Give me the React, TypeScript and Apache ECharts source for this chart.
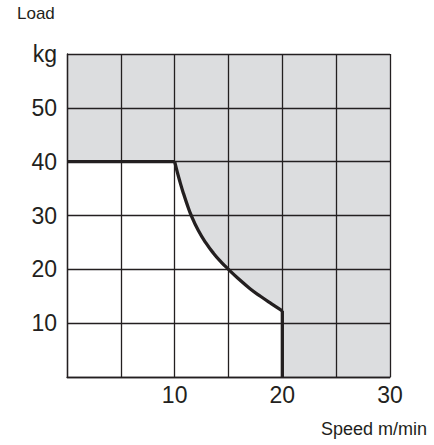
import React, { useEffect, useRef } from "react";
import * as echarts from "echarts";

// Rated load limit (speed m/min, load kg)
const flatSpeed = [0, 10];
const flatLoad = [40, 40];
const curveSpeed = [10, 10.25, 10.5, 10.8, 11.1, 11.54, 12.2, 12.9, 13.6, 14.3, 15, 15.9, 17.0, 18.0, 19.0, 20];
const curveLoad = [40, 38.0, 36.2, 34.2, 32.4, 30.0, 27.2, 24.9, 23.0, 21.4, 20.0, 18.3, 16.4, 14.95, 13.6, 12.3];
const dropSpeed = [20, 20];
const dropLoad = [12.3, 0];

const xLabels: Record<number, string> = { 10: "10", 20: "20", 30: "30" };
const yLabels: Record<number, string> = { 10: "10", 20: "20", 30: "30", 40: "40", 50: "50", 60: "kg" };

const xTitle = "Speed m/min";
const yTitle = "Load";

const INK = "#231f20";
const FONT = "'Liberation Sans', Arial, Helvetica, sans-serif";

const pairs = (xs: number[], ys: number[]) => xs.map((x, i) => [x, ys[i]]);

export default function App() {
  const ref = useRef<HTMLDivElement>(null);
  useEffect(() => {
    if (!ref.current) return;
    const chart = echarts.init(ref.current, undefined, { renderer: "svg" });
    const flat = pairs(flatSpeed, flatLoad);
    const curve = pairs(curveSpeed, curveLoad);
    const drop = pairs(dropSpeed, dropLoad);
    const areaBase = {
      type: "line",
      z: 2,
      showSymbol: false,
      symbol: "none",
      lineStyle: { width: 0 },
      areaStyle: { color: "#ffffff", opacity: 1 },
      silent: true,
    };
    const lineBase = {
      type: "line",
      z: 5,
      showSymbol: false,
      symbol: "none",
      lineStyle: { color: INK, width: 3.3, cap: "butt", join: "round" },
      silent: true,
    };
    chart.setOption({
      animation: false,
      backgroundColor: "#ffffff",
      grid: {
        left: 67,
        right: 44,
        top: 54,
        bottom: 68,
        show: true,
        backgroundColor: "#dcdddf",
        borderWidth: 0,
        z: 0,
      },
      xAxis: {
        type: "value",
        min: 0,
        max: 30,
        interval: 5,
        z: 3,
        axisLine: { show: true, lineStyle: { color: INK, width: 1.3 } },
        axisTick: { show: false },
        splitLine: { show: true, lineStyle: { color: INK, width: 1.3 } },
        axisLabel: {
          margin: 6,
          fontSize: 23,
          color: INK,
          fontFamily: FONT,
          formatter: (v: number) => xLabels[v] ?? "",
        },
      },
      yAxis: {
        type: "value",
        min: 0,
        max: 60,
        interval: 10,
        z: 3,
        axisLine: { show: true, lineStyle: { color: INK, width: 1.3 } },
        axisTick: { show: false },
        splitLine: { show: true, lineStyle: { color: INK, width: 1.3 } },
        axisLabel: {
          margin: 10,
          fontSize: 23,
          color: INK,
          fontFamily: FONT,
          padding: [4, 0, 0, 0],
          formatter: (v: number) => yLabels[v] ?? "",
        },
      },
      graphic: [
        {
          type: "text",
          left: 17,
          top: 5,
          style: { text: yTitle, fontSize: 17, fill: INK, fontFamily: FONT },
        },
        {
          type: "text",
          right: 7,
          top: 420,
          style: { text: xTitle, fontSize: 18, fill: INK, fontFamily: FONT },
        },
      ],
      series: [
        { ...areaBase, data: flat },
        { ...areaBase, data: curve, smooth: 0.5 },
        { ...lineBase, data: flat },
        { ...lineBase, data: curve, smooth: 0.5 },
        { ...lineBase, data: drop },
      ],
    });
    return () => chart.dispose();
  }, []);
  return (
    <div
      ref={ref}
      style={{ position: "fixed", left: 0, top: 0, width: 434, height: 445 }}
    />
  );
}
